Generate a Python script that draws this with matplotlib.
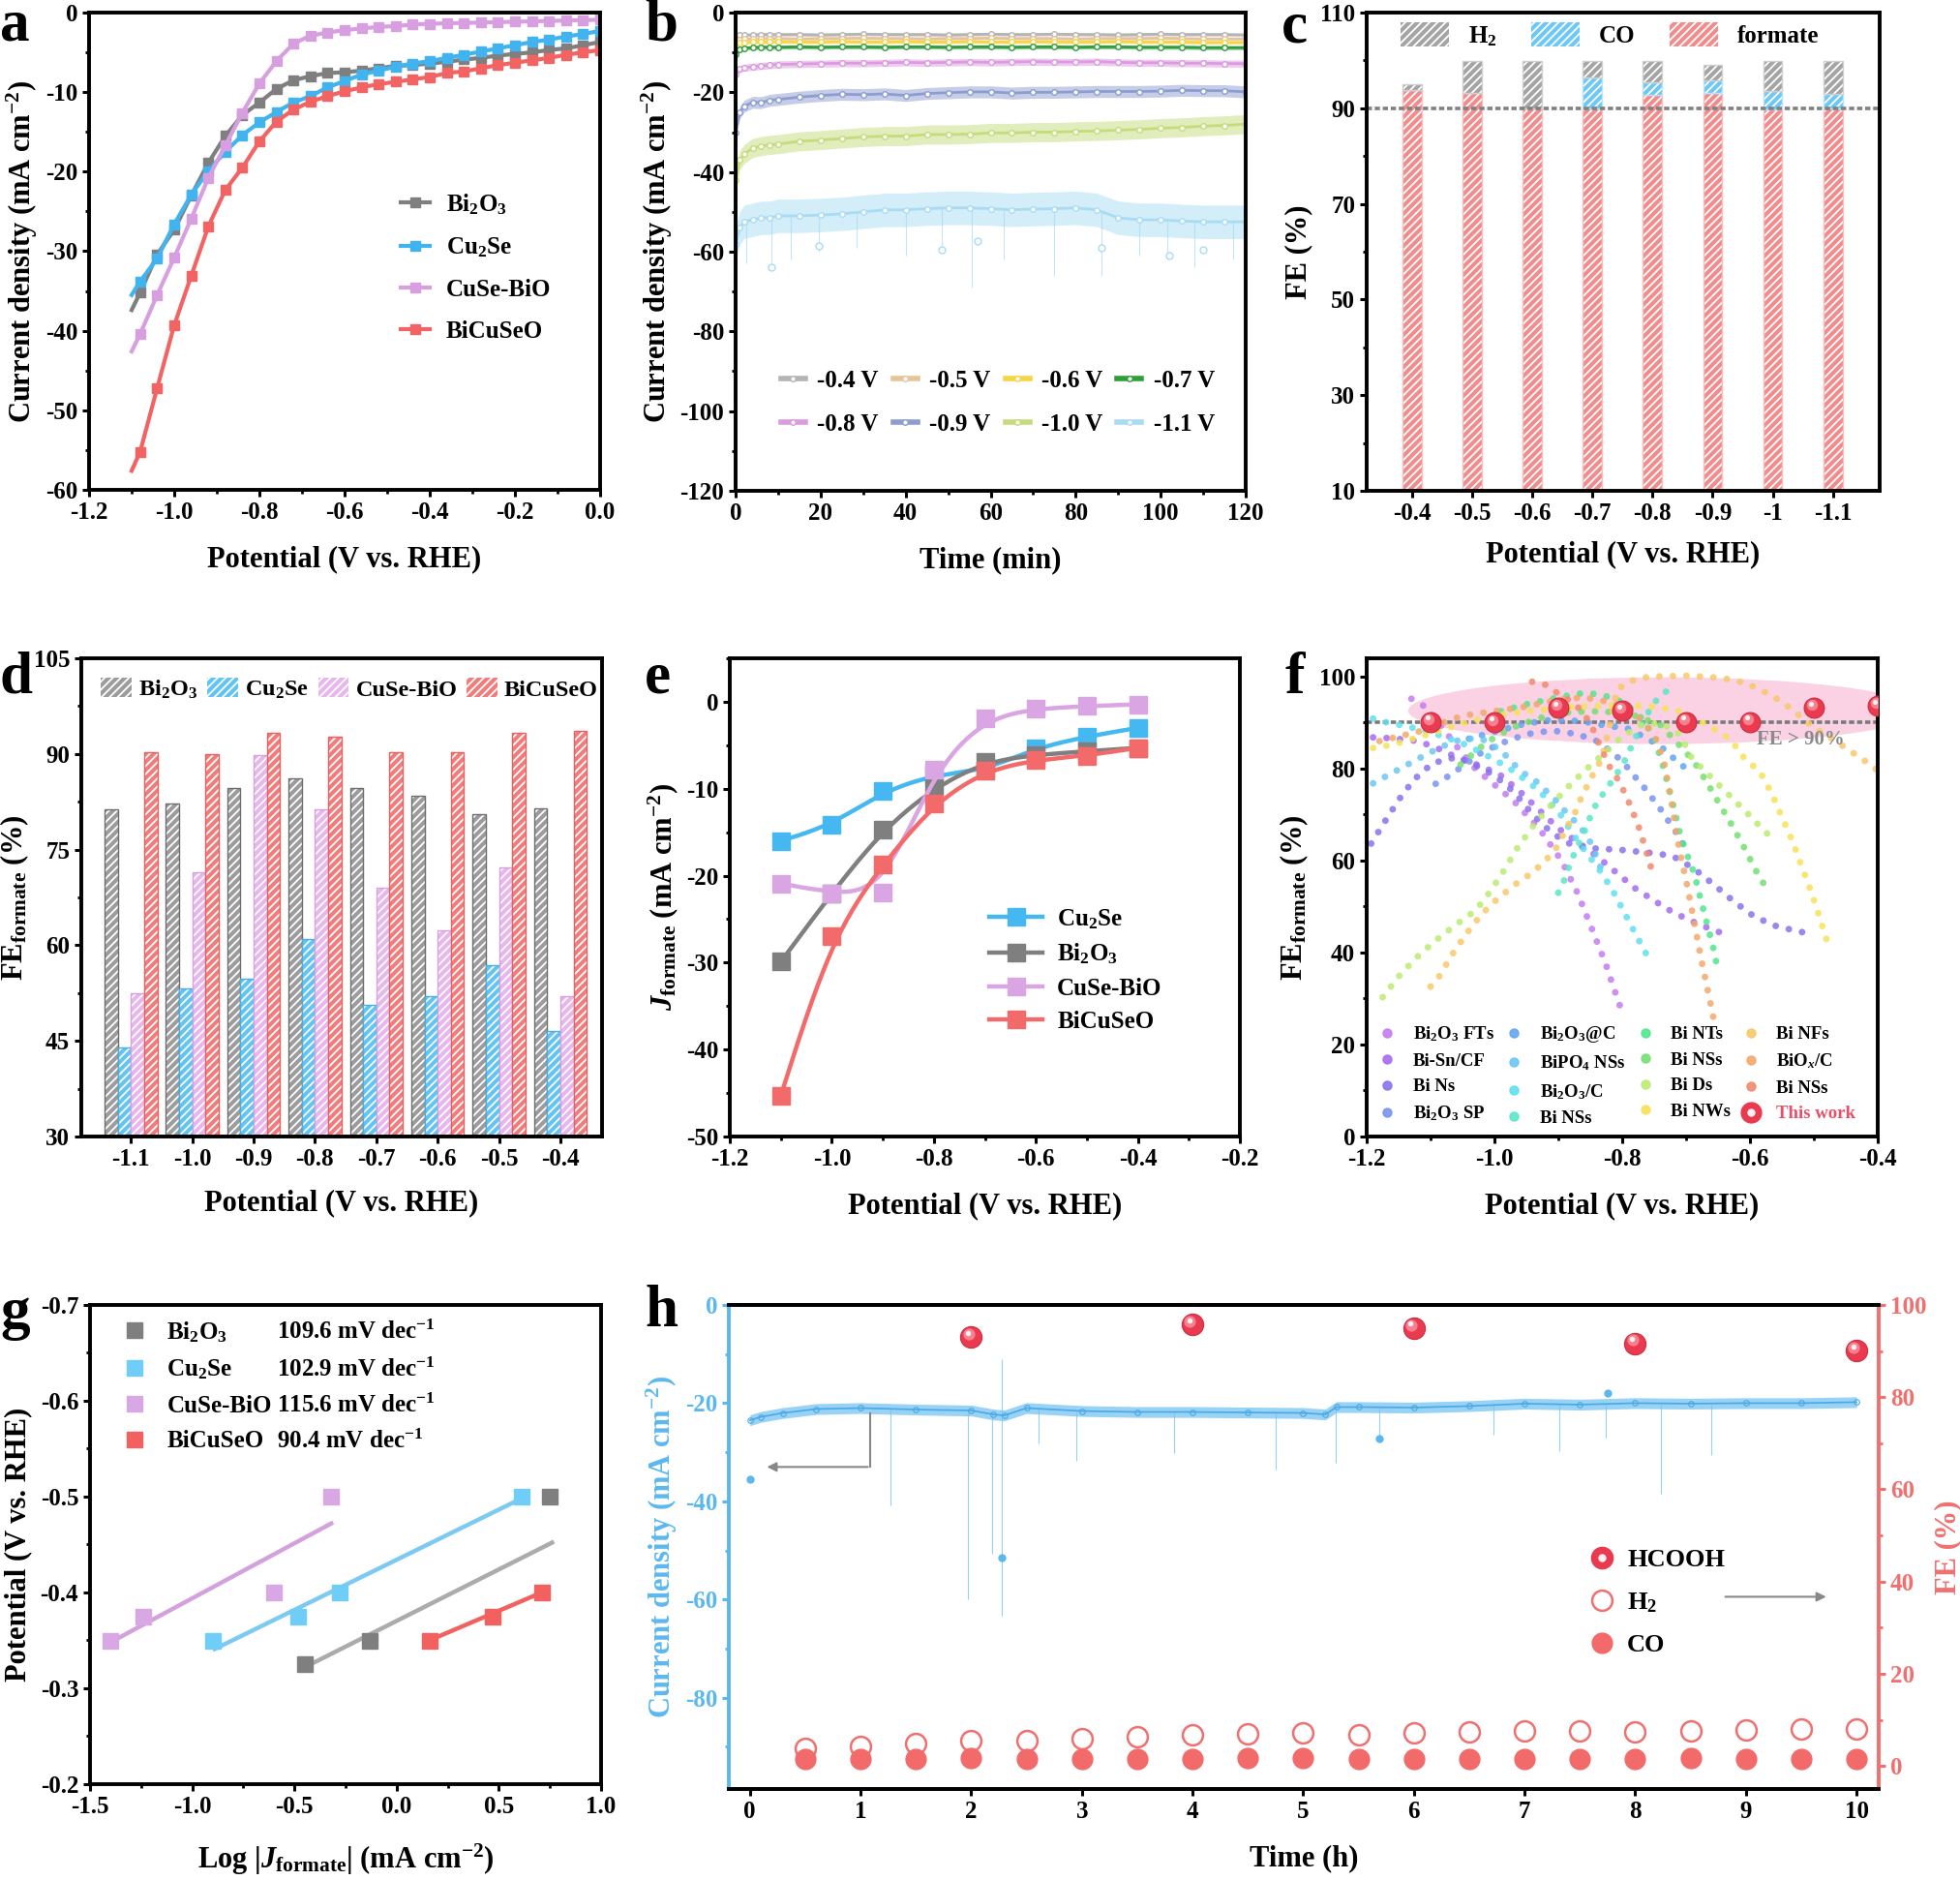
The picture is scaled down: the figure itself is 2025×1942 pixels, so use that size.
import numpy as np
import matplotlib
matplotlib.use("Agg")
import matplotlib.pyplot as plt
from matplotlib.patches import Patch, Ellipse
from matplotlib.lines import Line2D
from matplotlib.legend_handler import HandlerTuple
from matplotlib import transforms
from matplotlib.ticker import MultipleLocator

plt.rcParams.update({
    "font.family": ["Liberation Serif", "DejaVu Serif"],
    "font.weight": "bold",
    "axes.labelweight": "bold",
    "font.size": 18,
    "mathtext.fontset": "custom",
    "mathtext.rm": "Liberation Serif:bold",
    "mathtext.it": "Liberation Serif:italic:bold",
    "mathtext.bf": "Liberation Serif:bold",
    "axes.unicode_minus": False,
    "axes.linewidth": 2.8,
    "xtick.direction": "out",
    "ytick.direction": "out",
    "xtick.major.size": 5,
    "ytick.major.size": 5,
    "xtick.minor.size": 3,
    "ytick.minor.size": 3,
    "xtick.major.width": 2.2,
    "ytick.major.width": 2.2,
    "xtick.minor.width": 2.0,
    "ytick.minor.width": 2.0,
    "xtick.labelsize": 18,
    "ytick.labelsize": 18,
    "axes.labelsize": 22,
    "hatch.linewidth": 1.3,
    "legend.frameon": False,
})

# ---------------- data ----------------
# a: LSV curves
lsv_v = [-1.10, -1.08, -1.04, -1.00, -0.96, -0.92, -0.88, -0.84, -0.80, -0.76, -0.72, -0.68, -0.64, -0.60,
         -0.56, -0.52, -0.48, -0.44, -0.40, -0.36, -0.32, -0.28, -0.24, -0.20, -0.16, -0.12, -0.08, -0.04, 0.00]
lsv_bi2o3 = [-37.4, -35.2, -30.4, -27.3, -23.0, -18.9, -15.5, -12.9, -11.3, -9.6, -8.5, -8.0, -7.6, -7.5,
             -7.3, -7.0, -6.7, -6.6, -6.4, -6.2, -5.9, -5.7, -5.4, -5.2, -5.0, -4.7, -4.5, -4.1, -3.7]
lsv_cu2se = [-35.5, -33.8, -30.9, -26.6, -22.9, -19.9, -17.5, -15.4, -13.8, -12.5, -11.3, -10.5, -9.4, -8.6,
             -7.8, -7.3, -6.8, -6.4, -6.1, -5.7, -5.3, -4.9, -4.5, -4.1, -3.7, -3.4, -3.0, -2.7, -2.3]
lsv_cusebio = [-42.6, -40.4, -35.5, -30.8, -25.9, -20.8, -16.7, -12.6, -8.9, -6.1, -3.9, -2.9, -2.5, -2.2,
               -2.0, -1.8, -1.7, -1.5, -1.4, -1.35, -1.3, -1.25, -1.2, -1.15, -1.1, -1.05, -1.0, -0.95, -0.9]
lsv_bicuseo = [-57.6, -55.2, -47.2, -39.3, -33.1, -26.9, -22.3, -19.5, -16.2, -13.7, -12.2, -11.2, -10.5, -9.9,
               -9.4, -9.0, -8.7, -8.4, -8.1, -7.6, -7.4, -7.0, -6.6, -6.3, -6.0, -5.7, -5.3, -5.0, -4.7]

# b: i-t at fixed potentials
b_labels = ["-0.4 V", "-0.5 V", "-0.6 V", "-0.7 V", "-0.8 V", "-0.9 V", "-1.0 V", "-1.1 V"]
b_colors = ["#b4b4b4", "#e6c49a", "#f5d547", "#2e9e3a", "#dc9ae0", "#8e9dd0", "#c5dc7a", "#a8dcf4"]
b_t = [0, 1, 2, 4, 6, 8, 10, 15, 20, 25, 30, 35, 40, 45, 50, 55, 60, 65, 70, 75, 80, 85, 90, 95, 100, 105, 110, 115, 120]
b_j04 = [-6.0, -5.7, -5.6, -5.6, -5.5, -5.5, -5.5, -5.5, -5.6, -5.5, -5.4, -5.5, -5.5, -5.5, -5.6,
         -5.5, -5.4, -5.5, -5.5, -5.4, -5.5, -5.5, -5.6, -5.5, -5.4, -5.5, -5.5, -5.5, -5.6]
b_j05 = [-7.2, -6.8, -6.6, -6.6, -6.5, -6.5, -6.5, -6.6, -6.5, -6.5, -6.4, -6.5, -6.5, -6.6, -6.5,
         -6.5, -6.4, -6.5, -6.5, -6.5, -6.6, -6.5, -6.5, -6.5, -6.4, -6.5, -6.6, -6.6, -6.6]
b_j06 = [-8.0, -7.6, -7.5, -7.4, -7.4, -7.4, -7.3, -7.4, -7.4, -7.3, -7.4, -7.4, -7.3, -7.4, -7.4,
         -7.3, -7.4, -7.4, -7.3, -7.4, -7.4, -7.4, -7.3, -7.4, -7.4, -7.4, -7.5, -7.5, -7.5]
b_j07 = [-10.5, -9.2, -8.9, -8.8, -8.7, -8.7, -8.7, -8.6, -8.7, -8.6, -8.6, -8.7, -8.6, -8.6, -8.7,
         -8.6, -8.6, -8.7, -8.6, -8.6, -8.7, -8.6, -8.6, -8.7, -8.7, -8.7, -8.8, -8.8, -8.8]
b_j08 = [-15.5, -14.2, -13.8, -13.6, -13.4, -13.2, -13.0, -12.9, -12.8, -12.7, -12.7, -12.6, -12.5, -12.6, -12.5,
         -12.4, -12.5, -12.4, -12.3, -12.4, -12.4, -12.3, -12.5, -12.6, -12.6, -12.7, -12.7, -12.8, -12.8]
b_j09 = [-30.0, -25.0, -23.5, -22.5, -22.6, -22.0, -21.8, -21.2, -20.8, -20.5, -20.6, -20.4, -20.8, -20.3, -20.1,
         -19.9, -19.9, -20.2, -20.0, -20.0, -19.9, -19.8, -19.8, -19.8, -19.7, -19.5, -19.6, -19.6, -19.9]
b_j10 = [-42.0, -37.0, -35.5, -34.0, -33.5, -33.2, -33.0, -32.3, -32.0, -31.6, -31.2, -31.0, -31.0, -30.6, -30.6,
         -30.5, -30.2, -30.2, -30.0, -30.0, -29.8, -29.7, -29.5, -29.3, -29.0, -28.8, -28.5, -28.3, -28.0]
b_j11 = [-58.0, -54.0, -52.5, -52.0, -51.5, -51.5, -51.0, -51.0, -50.8, -50.5, -50.0, -49.5, -49.5, -49.2, -49.0,
         -49.0, -49.2, -49.5, -49.3, -49.2, -49.0, -49.5, -51.5, -52.0, -52.0, -52.3, -52.5, -52.5, -52.5]
b_noise = [0.4, 0.4, 0.4, 0.5, 0.9, 1.5, 2.4, 4.2]
b_spike_t = [2.5, 8.5, 13, 19.5, 28.5, 40, 48.5, 55.5, 63, 75, 86, 95, 101.5, 108, 117]
b_spike_lo = [-63, -64, -62, -60, -59, -61, -60, -69, -62, -66, -66, -61, -62, -64, -62]
b_out_t = [8.5, 19.5, 48.5, 57, 86, 102, 110]
b_out_j = [-63.8, -58.5, -59.5, -57.3, -59.0, -61.0, -59.5]

# c: product distribution of BiCuSeO
c_pot = ["-0.4", "-0.5", "-0.6", "-0.7", "-0.8", "-0.9", "-1", "-1.1"]
c_formate = [93.8, 93.2, 90.0, 90.0, 92.7, 93.2, 89.8, 89.9]
c_co = [0.0, 0.0, 0.0, 6.4, 2.7, 2.6, 3.9, 3.0]
c_h2 = [1.2, 6.6, 9.8, 3.4, 4.4, 3.2, 6.1, 6.9]

# d: formate FE of all samples
d_pot = ["-1.1", "-1.0", "-0.9", "-0.8", "-0.7", "-0.6", "-0.5", "-0.4"]
d_bi2o3 = [81.3, 82.2, 84.7, 86.1, 84.6, 83.4, 80.6, 81.4]
d_cu2se = [44.0, 53.2, 54.8, 61.0, 50.6, 52.0, 56.9, 46.5]
d_cusebio = [52.5, 71.4, 89.8, 81.3, 69.0, 62.3, 72.2, 52.0]
d_bicuseo = [90.2, 90.0, 93.3, 92.7, 90.2, 90.2, 93.3, 93.6]

# e: partial current density of formate
e_pot = [-1.1, -1.0, -0.9, -0.8, -0.7, -0.6, -0.5, -0.4]
e_cu2se = [-16.0, -14.2, -10.3, -8.4, -7.9, -5.3, -4.0, -3.0]
e_bi2o3 = [-29.9, -22.0, -14.7, -9.9, -6.9, -6.1, -5.7, -5.3]
e_cusebio = [-20.9, -22.0, -21.9, -7.8, -1.9, -0.8, -0.5, -0.3]
e_bicuseo = [-45.3, -26.9, -18.7, -11.7, -7.9, -6.7, -6.2, -5.3]

# f: literature comparison
f_fts_v = [-1.13, -1.11, -1.09, -1.06, -1.03, -1.00, -0.97, -0.93, -0.895, -0.87, -0.847, -0.826, -0.81, -0.80]
f_fts_fe = [95.2, 93.6, 90.5, 85.0, 80.0, 76.5, 73.0, 67.0, 60.0, 53.0, 45.0, 37.6, 31.0, 27.0]
f_bisn_v = [-1.19, -1.16, -1.12, -1.09, -1.06, -1.02, -0.99, -0.96, -0.93, -0.90, -0.87, -0.84, -0.81, -0.78,
            -0.73, -0.696, -0.659, -0.639]
f_bisn_fe = [86.8, 86.6, 86.0, 84.5, 82.5, 80.5, 78.5, 75.0, 71.0, 67.0, 64.0, 61.0, 57.5, 54.0, 49.5, 47.1, 45.0, 44.0]
f_bins_v = [-1.193, -1.172, -1.15, -1.126, -1.097, -1.062, -1.04, -1.00, -0.97, -0.94, -0.91, -0.88, -0.85, -0.80,
            -0.743, -0.72, -0.688, -0.655, -0.625, -0.593, -0.558, -0.52, -0.50]
f_bins_fe = [63.7, 68.4, 73.2, 77.6, 81.2, 82.4, 81.5, 78.5, 75.0, 70.0, 66.0, 63.5, 62.7, 62.3, 61.5, 60.9, 58.3,
             54.6, 51.1, 47.8, 45.7, 44.5, 43.9]
f_sp_v = [-1.092, -1.074, -1.05, -1.02, -0.99, -0.95, -0.91, -0.87, -0.84, -0.82, -0.804, -0.790, -0.778, -0.765,
          -0.753, -0.741, -0.730, -0.719, -0.708, -0.698]
f_sp_fe = [76.7, 78.2, 80.5, 83.5, 85.5, 87.5, 88.3, 87.5, 86.0, 84.0, 82.1, 80.0, 77.9, 75.8, 73.6, 71.4, 69.1,
           66.9, 64.4, 62.0]
f_atc_v = [-1.04, -1.00, -0.96, -0.92, -0.88, -0.85, -0.82, -0.794, -0.76, -0.741, -0.725, -0.716, -0.699]
f_atc_fe = [86.5, 88.0, 89.5, 90.5, 90.5, 90.0, 89.2, 88.9, 86.5, 84.9, 83.2, 81.6, 80.0]
f_bipo4_v = [-1.19, -1.153, -1.12, -1.084, -1.05, -1.02, -0.99, -0.97, -0.953, -0.936, -0.921, -0.906, -0.894,
             -0.880, -0.867, -0.855, -0.845, -0.835, -0.826]
f_bipo4_fe = [76.8, 79.6, 82.1, 84.7, 86.5, 86.5, 84.0, 81.0, 78.9, 77.4, 75.4, 73.5, 71.4, 69.5, 67.4, 65.5,
              62.5, 59.0, 56.0]
f_o3c_v = [-1.19, -1.17, -1.14, -1.11, -1.08, -1.05, -1.02, -0.984, -0.966, -0.95, -0.932, -0.912, -0.895, -0.876,
           -0.855, -0.837, -0.816, -0.797, -0.779, -0.76]
f_o3c_fe = [90.9, 90.1, 89.3, 88.3, 87.0, 85.5, 83.5, 80.7, 79.1, 77.3, 75.5, 72.5, 69.7, 65.5, 61.5, 58.3, 53.8,
            48.8, 44.0, 39.1]
f_nsa_v = [-0.90, -0.89, -0.88, -0.87, -0.86, -0.85, -0.84, -0.825, -0.81, -0.795, -0.78, -0.765, -0.746, -0.731, -0.715]
f_nsa_fe = [53.0, 56.0, 60.0, 63.0, 66.0, 69.5, 72.5, 75.5, 78.5, 82.0, 86.5, 91.0, 95.0, 96.8, 98.4]
f_nts_v = [-0.99, -0.95, -0.90, -0.87, -0.85, -0.83, -0.81, -0.79, -0.77, -0.75, -0.735, -0.72, -0.708, -0.695,
           -0.687, -0.677, -0.667, -0.657, -0.653]
f_nts_fe = [92.5, 94.0, 95.5, 96.3, 96.4, 95.9, 95.2, 93.5, 91.0, 87.0, 80.0, 72.0, 65.0, 60.0, 57.1, 51.5, 46.2,
            40.8, 38.0]
f_nsg_v = [-1.053, -1.023, -1.00, -0.97, -0.93, -0.88, -0.83, -0.78, -0.74, -0.72, -0.70, -0.687, -0.667, -0.647,
           -0.626, -0.607, -0.589, -0.579]
f_nsg_fe = [80.9, 84.5, 86.8, 89.0, 91.0, 92.3, 92.5, 91.5, 89.5, 86.5, 83.5, 81.4, 76.9, 72.1, 67.2, 62.3, 57.4, 55.1]
f_ds_v = [-1.175, -1.15, -1.123, -1.094, -1.062, -1.029, -1.006, -0.984, -0.963, -0.939, -0.913, -0.885, -0.857,
          -0.827, -0.80, -0.77, -0.74, -0.71, -0.69, -0.671, -0.658, -0.630, -0.602, -0.574, -0.560]
f_ds_fe = [30.3, 34.8, 38.8, 42.4, 45.9, 49.2, 53.4, 58.1, 63.0, 67.6, 71.8, 76.0, 79.8, 83.5, 87.0, 89.5, 90.0,
           87.5, 82.0, 79.6, 77.7, 73.9, 70.0, 66.0, 64.1]
f_nws_v = [-1.19, -1.16, -1.12, -1.08, -1.04, -1.00, -0.95, -0.90, -0.85, -0.80, -0.75, -0.71, -0.68, -0.655,
           -0.63, -0.607, -0.585, -0.566, -0.55, -0.534, -0.521, -0.507, -0.494, -0.482, -0.476]
f_nws_fe = [84.5, 85.2, 86.8, 88.5, 90.2, 91.5, 92.5, 93.2, 93.6, 93.8, 93.5, 92.5, 90.5, 88.5, 86.3, 81.9, 79.5,
            74.6, 69.5, 64.4, 59.5, 54.3, 49.0, 43.6, 41.1]
f_nfs_v = [-1.10, -1.087, -1.067, -1.044, -1.025, -1.006, -0.976, -0.961, -0.943, -0.928, -0.914, -0.902, -0.885,
           -0.875, -0.867, -0.858, -0.850, -0.832, -0.82, -0.808, -0.793, -0.775, -0.756, -0.70, -0.660, -0.640,
           -0.621, -0.602, -0.583, -0.564, -0.547, -0.532, -0.516, -0.500, -0.483, -0.467, -0.450, -0.434, -0.417, -0.402]
f_nfs_fe = [32.6, 34.7, 39.4, 44.1, 47.5, 50.4, 53.9, 55.5, 57.1, 59.0, 60.9, 63.0, 67.7, 70.0, 72.8, 75.3, 77.7,
            82.1, 89.0, 97.1, 98.7, 99.6, 100.0, 100.2, 99.9, 99.6, 99.1, 98.3, 97.1, 95.7, 94.2, 92.6, 90.8, 88.9,
            87.5, 86.1, 84.5, 83.0, 81.4, 79.8]
f_biox_v = [-1.18, -1.15, -1.12, -1.09, -1.05, -1.00, -0.95, -0.90, -0.86, -0.82, -0.79, -0.765, -0.745, -0.733,
            -0.722, -0.711, -0.698, -0.687, -0.676, -0.668, -0.656]
f_biox_fe = [86.0, 87.0, 88.0, 89.5, 91.5, 92.5, 93.5, 95.0, 95.5, 94.5, 93.0, 90.0, 86.0, 80.6, 72.0, 62.7, 54.4,
             46.4, 38.3, 33.1, 25.0]
f_nss_v = [-0.941, -0.923, -0.902, -0.873, -0.85, -0.835, -0.82, -0.803, -0.786, -0.773, -0.761, -0.75]
f_nss_fe = [98.9, 98.5, 96.5, 94.0, 90.0, 85.0, 80.5, 76.8, 71.6, 66.9, 61.4, 56.2]

f_names = ["Bi$_2$O$_3$ FTs", "Bi-Sn/CF", "Bi Ns", "Bi$_2$O$_3$ SP",
           "Bi$_2$O$_3$@C", "BiPO$_4$ NSs", "Bi$_2$O$_3$/C", "Bi NSs",
           "Bi NTs", "Bi NSs", "Bi Ds", "Bi NWs",
           "Bi NFs", "BiO$_x$/C", "Bi NSs"]
f_colors = ["#c47cf2", "#a66cf0", "#8a72ee", "#7894f0",
            "#62a6f0", "#6cc6f4", "#5ee0f0", "#5ce6c8",
            "#52e68e", "#74e070", "#bcec72", "#f6e25a",
            "#f8c86a", "#f4a86a", "#f28a6c"]
f_xs = [f_fts_v, f_bisn_v, f_bins_v, f_sp_v, f_atc_v, f_bipo4_v, f_o3c_v, f_nsa_v,
        f_nts_v, f_nsg_v, f_ds_v, f_nws_v, f_nfs_v, f_biox_v, f_nss_v]
f_ys = [f_fts_fe, f_bisn_fe, f_bins_fe, f_sp_fe, f_atc_fe, f_bipo4_fe, f_o3c_fe, f_nsa_fe,
        f_nts_fe, f_nsg_fe, f_ds_fe, f_nws_fe, f_nfs_fe, f_biox_fe, f_nss_fe]

# g: Tafel
g_bi2o3_x = [-0.45, -0.13, 0.75]
g_bi2o3_y = [-0.325, -0.35, -0.50]
g_bi2o3_fit_x = [-0.45, 0.76]
g_bi2o3_fit_y = [-0.322, -0.452]
g_cu2se_x = [-0.90, -0.48, -0.28, 0.61]
g_cu2se_y = [-0.35, -0.375, -0.40, -0.50]
g_cu2se_fit_x = [-0.89, 0.61]
g_cu2se_fit_y = [-0.341, -0.498]
g_cusebio_x = [-1.40, -1.24, -0.60, -0.32]
g_cusebio_y = [-0.35, -0.375, -0.40, -0.50]
g_cusebio_fit_x = [-1.40, -0.32]
g_cusebio_fit_y = [-0.348, -0.472]
g_bicuseo_x = [0.16, 0.47, 0.71]
g_bicuseo_y = [-0.35, -0.375, -0.40]
g_bicuseo_fit_x = [0.16, 0.71]
g_bicuseo_fit_y = [-0.35, -0.40]
g_slopes = ["109.6 mV dec$^{-1}$", "102.9 mV dec$^{-1}$", "115.6 mV dec$^{-1}$", "90.4 mV dec$^{-1}$"]

# h: long-term stability
h_t = [0, 0.1, 0.3, 0.6, 1.0, 1.5, 2.0, 2.2, 2.3, 2.5, 3.0, 3.5, 4.0, 4.5, 5.0, 5.2, 5.3, 5.5,
       6.0, 6.5, 7.0, 7.5, 8.0, 8.5, 9.0, 9.5, 10.0]
h_j = [-23.5, -22.8, -22.0, -21.2, -21.0, -21.3, -21.5, -22.3, -22.5, -21.0, -21.6, -21.8, -21.8, -21.9, -22.0,
       -22.3, -20.8, -20.8, -20.9, -20.6, -20.1, -20.3, -20.0, -20.1, -20.0, -20.0, -19.8]
h_spike_t = [1.27, 1.97, 2.19, 2.28, 2.61, 2.95, 3.83, 4.75, 5.29, 5.69, 6.72, 7.31, 7.73, 8.23, 8.69]
h_spike_lo = [-40.8, -60.0, -50.6, -63.3, -28.2, -31.8, -30.2, -33.5, -32.2, -27.8, -26.5, -29.8, -27.0, -38.4, -30.6]
h_out_t = [0.0, 2.28, 5.69, 7.75]
h_out_j = [-35.5, -51.5, -27.3, -18.0]
h_hcooh_t = [2, 4, 6, 8, 10]
h_hcooh_fe = [93.0, 95.8, 95.0, 91.7, 90.1]
h_gas_t = [0.5, 1.0, 1.5, 2.0, 2.5, 3.0, 3.5, 4.0, 4.5, 5.0, 5.5, 6.0, 6.5, 7.0, 7.5, 8.0, 8.5, 9.0, 9.5, 10.0]
h_h2_fe = [3.9, 4.2, 4.8, 5.4, 5.4, 5.9, 6.3, 6.7, 7.0, 7.1, 6.7, 7.1, 7.3, 7.7, 7.6, 7.3, 7.7, 7.8, 8.0, 8.0]
h_co_fe = [1.5, 1.5, 1.6, 1.7, 1.5, 1.6, 1.6, 1.6, 1.7, 1.7, 1.5, 1.5, 1.6, 1.6, 1.6, 1.6, 1.7, 1.6, 1.6, 1.6]

GRAY, BLUE, PURPLE, RED = "#7f7f7f", "#41b4f0", "#d79fe0", "#f26464"

W, H = 2025, 1942
fig = plt.figure(figsize=(W / 100, H / 100), dpi=100)


def box(l, r, t, b):
    return [l / W, 1 - b / H, (r - l) / W, (b - t) / H]


def ticks(ax, xmaj=None, xmin=None, ymaj=None, ymin=None):
    if xmaj:
        ax.xaxis.set_major_locator(MultipleLocator(xmaj))
    if xmin:
        ax.xaxis.set_minor_locator(MultipleLocator(xmin))
    if ymaj:
        ax.yaxis.set_major_locator(MultipleLocator(ymaj))
    if ymin:
        ax.yaxis.set_minor_locator(MultipleLocator(ymin))
    ax.tick_params(which="both", top=False, right=False)


def letter(s, x, y):
    fig.text(x / W, 1 - y / H, s, fontsize=44, fontweight="bold", va="baseline", ha="left")


def sphere(ax, x, y, ms, z=5):
    ax.plot(x, y, "o", ms=ms, color="#ea3a50", mec="#d02a40", mew=0.8, ls="none", zorder=z)
    t1 = transforms.offset_copy(ax.transData, fig=fig, x=-ms * 0.12, y=ms * 0.14, units="points")
    ax.plot(x, y, "o", ms=ms * 0.55, color="#f7808f", mew=0, ls="none", transform=t1, zorder=z + 0.1)
    t2 = transforms.offset_copy(ax.transData, fig=fig, x=-ms * 0.16, y=ms * 0.2, units="points")
    ax.plot(x, y, "o", ms=ms * 0.25, color="#fff0f2", mew=0, ls="none", transform=t2, zorder=z + 0.2)


def bspline(xs, ys, n=30):
    # uniform cubic B-spline with clamped ends, like Origin's B-spline connect
    p = np.column_stack([xs, ys]).astype(float)
    p = np.vstack([p[0], p[0], p, p[-1], p[-1]])
    t = np.linspace(0, 1, n)[:, None]
    b0 = (1 - t) ** 3 / 6
    b1 = (3 * t ** 3 - 6 * t ** 2 + 4) / 6
    b2 = (-3 * t ** 3 + 3 * t ** 2 + 3 * t + 1) / 6
    b3 = t ** 3 / 6
    seg = [b0 * p[i] + b1 * p[i + 1] + b2 * p[i + 2] + b3 * p[i + 3] for i in range(len(p) - 3)]
    out = np.vstack(seg)
    return out[:, 0], out[:, 1]


def hatched_bar(ax, x, h, w, face, edge, bottom=0):
    ax.bar(x, h, w, bottom=bottom, color=face, edgecolor="white", hatch="////", lw=0)
    ax.bar(x, h, w, bottom=bottom, color="none", edgecolor=edge, lw=1.0)


sphere_handler = {tuple: HandlerTuple(ndivide=1, pad=0)}

# ---------------- a ----------------
ax = fig.add_axes(box(92, 620, 13, 506))
for ys, c, lab in [(lsv_bi2o3, GRAY, "Bi$_2$O$_3$"), (lsv_cu2se, BLUE, "Cu$_2$Se"),
                   (lsv_cusebio, PURPLE, "CuSe-BiO"), (lsv_bicuseo, RED, "BiCuSeO")]:
    ax.plot(lsv_v, ys, color=c, lw=3, marker="s", ms=7, markevery=slice(1, None), label=lab)
ax.set_xlim(-1.2, 0)
ax.set_ylim(-60, 0)
ticks(ax, 0.2, 0.1, 10, 5)
ax.xaxis.set_major_formatter(plt.FormatStrFormatter("%.1f"))
ax.set_xlabel("Potential (V vs. RHE)", labelpad=16)
ax.set_ylabel("Current density (mA cm$^{-2}$)", labelpad=4)
ax.legend(loc="upper left", bbox_to_anchor=(0.59, 0.645), fontsize=18, handlelength=1.2,
          handletextpad=0.7, labelspacing=0.8, borderaxespad=0)
letter("a", 0, 42)

# ---------------- b ----------------
ax = fig.add_axes(box(760, 1287, 13, 507))
series_b = [b_j04, b_j05, b_j06, b_j07, b_j08, b_j09, b_j10, b_j11]
ax.vlines(b_spike_t, np.interp(b_spike_t, b_t, b_j11), b_spike_lo, color=b_colors[7], lw=0.8, alpha=0.7)
handles_b = []
for ys, c, lab, s in zip(series_b, b_colors, b_labels, b_noise):
    ys = np.array(ys)
    ax.fill_between(b_t, ys - s, ys + s, color=c, alpha=0.5, lw=0)
    ax.plot(b_t, ys, color=c, lw=2, marker="o", ms=4, mfc="white", mec=c, mew=1, label=lab)
    handles_b.append(Line2D([], [], color=c, lw=4, marker="o", ms=4, mfc="white", mec=c))
ax.plot(b_out_t, b_out_j, "o", ms=5, mfc="white", mec=b_colors[7], ls="none")
ax.set_xlim(0, 120)
ax.set_ylim(-120, 0)
ticks(ax, 20, 10, 20, 10)
ax.set_xlabel("Time (min)", labelpad=16)
ax.set_ylabel("Current density (mA cm$^{-2}$)", labelpad=4)
order = [0, 4, 1, 5, 2, 6, 3, 7]
ax.legend([handles_b[i] for i in order], [b_labels[i] for i in order], ncol=4, loc="lower left",
          bbox_to_anchor=(0.07, 0.095), fontsize=18, handlelength=1.0, handletextpad=0.5,
          columnspacing=0.6, labelspacing=0.9, borderaxespad=0)
letter("b", 666, 42)

# ---------------- c ----------------
ax = fig.add_axes(box(1412, 1942, 13, 507))
xc = np.arange(len(c_pot))
wc = 0.32
hatched_bar(ax, xc, c_formate, wc, "#f28b8b", "#f6c0c0")
hatched_bar(ax, xc, c_co, wc, "#6ec8f5", "#b8e3f8", bottom=c_formate)
hatched_bar(ax, xc, c_h2, wc, "#a4a4a4", "#d0d0d0", bottom=np.array(c_formate) + np.array(c_co))
ax.axhline(90, color="#808080", ls=(0, (1.5, 0.8)), lw=2.6, zorder=1)
ax.set_xlim(-0.76, 7.78)
ax.set_ylim(10, 110)
ax.set_xticks(xc)
ax.set_xticklabels(c_pot)
ax.set_yticks(np.arange(10, 111, 20))
ax.set_yticks(np.arange(20, 110, 20), minor=True)
ax.tick_params(which="both", top=False, right=False)
ax.set_xlabel("Potential (V vs. RHE)", labelpad=12)
ax.set_ylabel("FE (%)", labelpad=6)
hc = [Patch(facecolor="#a4a4a4", edgecolor="white", hatch="////", lw=0),
      Patch(facecolor="#6ec8f5", edgecolor="white", hatch="////", lw=0),
      Patch(facecolor="#f28b8b", edgecolor="white", hatch="////", lw=0)]
ax.legend(hc, ["H$_2$", "CO", "formate"], ncol=3, loc="center", bbox_to_anchor=(0.474, 0.953),
          fontsize=18, handlelength=2.0, handleheight=1.2, handletextpad=0.8, columnspacing=1.4,
          borderaxespad=0)
letter("c", 1324, 44)

# ---------------- d ----------------
ax = fig.add_axes(box(84, 622, 680, 1174))
xd = np.arange(len(d_pot))
wd = 0.215
d_series = [(d_bi2o3, "#9c9c9c", "#6e6e6e", "Bi$_2$O$_3$"), (d_cu2se, "#62c4f3", "#4aaee0", "Cu$_2$Se"),
            (d_cusebio, "#e6b6ec", "#d8a0e0", "CuSe-BiO"), (d_bicuseo, "#f27c7c", "#e86060", "BiCuSeO")]
hd = []
for k, (vals, face, edge, lab) in enumerate(d_series):
    hatched_bar(ax, xd + (k - 1.5) * wd, vals, wd, face, edge)
    hd.append(Patch(facecolor=face, edgecolor="white", hatch="////", lw=0))
ax.set_xlim(-0.81, 7.68)
ax.set_ylim(30, 105)
ax.set_xticks(xd)
ax.set_xticklabels(d_pot)
ticks(ax, None, None, 15, 7.5)
ax.set_xlabel("Potential (V vs. RHE)", labelpad=14)
ax.set_ylabel("FE$_{\\mathrm{formate}}$ (%)", labelpad=2)
ax.legend(hd, [s[3] for s in d_series], ncol=4, loc="center", bbox_to_anchor=(0.515, 0.935),
          fontsize=17.5, handlelength=1.3, handleheight=0.9, handletextpad=0.3, columnspacing=0.4,
          borderaxespad=0)
letter("d", 0, 716)

# ---------------- e ----------------
ax = fig.add_axes(box(754, 1281, 680, 1174))
he = []
for ys, c, lab in [(e_cu2se, "#45b8f2", "Cu$_2$Se"), (e_bi2o3, GRAY, "Bi$_2$O$_3$"),
                   (e_cusebio, "#d9a5e3", "CuSe-BiO"), (e_bicuseo, "#f36a6a", "BiCuSeO")]:
    sx, sy = bspline(e_pot, ys)
    ax.plot(sx, sy, color=c, lw=3.2)
    ax.plot(e_pot, ys, "s", color=c, ms=13, ls="none")
    he.append(Line2D([], [], color=c, lw=3.2, marker="s", ms=13))
ax.set_xlim(-1.2, -0.2)
ax.set_ylim(-50, 5)
ticks(ax, 0.2, 0.1, 10, 5)
ax.xaxis.set_major_formatter(plt.FormatStrFormatter("%.1f"))
ax.set_xlabel("Potential (V vs. RHE)", labelpad=16)
ax.set_ylabel("$\\mathit{J}_{\\mathrm{formate}}$ (mA cm$^{-2}$)", labelpad=4)
ax.legend(he, ["Cu$_2$Se", "Bi$_2$O$_3$", "CuSe-BiO", "BiCuSeO"], loc="upper left",
          bbox_to_anchor=(0.49, 0.50), fontsize=18, handlelength=2.2, handletextpad=0.6,
          labelspacing=0.45, borderaxespad=0)
letter("e", 666, 716)

# ---------------- f ----------------
ax = fig.add_axes(box(1412, 1940, 680, 1174))
ax.add_patch(Ellipse((-0.735, 92.6), 0.80, 14.5, color="#f9c4da", alpha=0.75, lw=0, zorder=0))
ax.axhline(90, color="#7a7a7a", ls=(0, (1.5, 0.8)), lw=2.6, zorder=1)
hf = []
for xs, ys, c in zip(f_xs, f_ys, f_colors):
    ax.plot(xs, ys, color=c, lw=5, ls=(0, (0.01, 2.0)), dash_capstyle="round", alpha=0.85, zorder=2)
    hf.append(Line2D([], [], color=c, marker="o", ms=6.5, ls="none", alpha=0.9))
sphere(ax, e_pot, d_bicuseo, 15)
ax.text(-0.59, 86.3, "FE > 90%", color="#8a8a8a", fontsize=15, ha="left", va="center")
ax.set_xlim(-1.2, -0.4)
ax.set_ylim(0, 104)
ticks(ax, 0.2, 0.1, 20, 10)
ax.xaxis.set_major_formatter(plt.FormatStrFormatter("%.1f"))
ax.set_xlabel("Potential (V vs. RHE)", labelpad=16)
ax.set_ylabel("FE$_{\\mathrm{formate}}$ (%)", labelpad=6)
tw = (Line2D([], [], marker="o", ms=15, color="#ea3a50", ls="none"),
      Line2D([], [], marker="o", ms=5, color="#fff0f2", ls="none"))
leg = ax.legend(hf + [tw], f_names + ["This work"], ncol=4, loc="lower left", bbox_to_anchor=(0.005, 0.005),
                fontsize=13.5, handlelength=1.2, handletextpad=0.8, columnspacing=0.5, labelspacing=0.5,
                borderaxespad=0, handler_map=sphere_handler)
leg.get_texts()[-1].set_color("#e8506a")
letter("f", 1327, 716)

# ---------------- g ----------------
ax = fig.add_axes(box(93, 621, 1348, 1843))
g_sets = [(g_bi2o3_x, g_bi2o3_y, g_bi2o3_fit_x, g_bi2o3_fit_y, "#7f7f7f", "#ababab", "Bi$_2$O$_3$"),
          (g_cu2se_x, g_cu2se_y, g_cu2se_fit_x, g_cu2se_fit_y, "#6fcdf8", "#7cc9f2", "Cu$_2$Se"),
          (g_cusebio_x, g_cusebio_y, g_cusebio_fit_x, g_cusebio_fit_y, "#d8a8e4", "#d3a2dc", "CuSe-BiO"),
          (g_bicuseo_x, g_bicuseo_y, g_bicuseo_fit_x, g_bicuseo_fit_y, "#f26060", "#f26060", "BiCuSeO")]
hg = []
for px, py, fx, fy, mc, lc, lab in g_sets:
    ax.plot(fx, fy, color=lc, lw=3.2, zorder=2)
    ax.plot(px, py, "s", color=mc, ms=11, ls="none", zorder=3)
    hg.append(Line2D([], [], marker="s", color=mc, ms=11, ls="none"))
ax.set_xlim(-1.5, 1.0)
ax.set_ylim(-0.2, -0.7)
ticks(ax, 0.5, 0.25, 0.1, 0.05)
ax.xaxis.set_major_formatter(plt.FormatStrFormatter("%.1f"))
ax.yaxis.set_major_formatter(plt.FormatStrFormatter("%.1f"))
ax.set_xlabel("Log |$\\mathit{J}_{\\mathrm{formate}}$| (mA cm$^{-2}$)", labelpad=18)
ax.set_ylabel("Potential (V vs. RHE)", labelpad=6)
legg = ax.legend(hg, [s[6] for s in g_sets], loc="upper left", bbox_to_anchor=(0.044, 0.99), fontsize=18,
                 handlelength=1.0, handletextpad=0.85, labelspacing=0.55, borderaxespad=0)
fig.canvas.draw()
inv = ax.transAxes.inverted()
for txt, sl in zip(legg.get_texts(), g_slopes):
    bb = txt.get_window_extent()
    yc = inv.transform(((bb.x0 + bb.x1) / 2, (bb.y0 + bb.y1) / 2))[1]
    ax.text(0.365, yc, sl, transform=ax.transAxes, fontsize=18, va="center", ha="left")
letter("g", 0, 1372)

# ---------------- h ----------------
axh = fig.add_axes(box(753, 1941, 1348, 1848))
hj = np.array(h_j)
axh.vlines(h_spike_t, np.interp(h_spike_t, h_t, h_j), h_spike_lo, color="#7cc6f0", lw=0.8, alpha=0.8)
axh.vlines([2.28], -22.5, -11.0, color="#7cc6f0", lw=0.8, alpha=0.8)
axh.fill_between(h_t, hj - 1.1, hj + 1.1, color="#6cc0f0", alpha=0.7, lw=0)
axh.plot(h_t, h_j, color="#4aa8e6", lw=1.2, marker="o", ms=4, mfc="none", mec="#4aa8e6", mew=0.8)
axh.plot(h_out_t, h_out_j, "o", ms=5, color="#5bb8ee", ls="none")
axh.plot([1.09, 1.09], [-22.0, -33.0], color="#888888", lw=1.5)
axh.annotate("", xy=(0.13, -33.0), xytext=(1.09, -33.0),
             arrowprops=dict(arrowstyle="-|>", color="#888888", lw=1.5, mutation_scale=14))
axh.set_xlim(-0.19, 10.2)
axh.set_ylim(-98.6, 0)
axh.xaxis.set_major_locator(MultipleLocator(1))
axh.yaxis.set_major_locator(MultipleLocator(20))
axh.yaxis.set_minor_locator(MultipleLocator(10))
axh.tick_params(axis="y", which="both", colors="#5bb8ee", right=False)
axh.tick_params(axis="x", top=False)
axh.spines["left"].set_color("#5bb8ee")
axh.spines["right"].set_visible(False)
axh.set_xlabel("Time (h)", labelpad=16)
axh.set_ylabel("Current density (mA cm$^{-2}$)", color="#5bb8ee", labelpad=4)
axf = axh.twinx()
axf.set_ylim(-5, 100)
axf.yaxis.set_major_locator(MultipleLocator(20))
axf.yaxis.set_minor_locator(MultipleLocator(10))
axf.tick_params(axis="y", which="both", colors="#f07070")
axf.spines["right"].set_color("#f07070")
axf.spines["left"].set_visible(False)
axf.set_ylabel("FE (%)", color="#f07070", rotation=90, labelpad=6)
sphere(axf, h_hcooh_t, h_hcooh_fe, 16)
axf.plot(h_gas_t, h_h2_fe, "o", ms=15, mfc="none", mec="#f07070", mew=1.8, ls="none")
axf.plot(h_gas_t, h_co_fe, "o", ms=15, color="#f26a6a", ls="none")
axf.annotate("", xy=(9.75, 36.7), xytext=(8.79, 36.7),
             arrowprops=dict(arrowstyle="-|>", color="#888888", lw=1.5, mutation_scale=14))
hh = [(Line2D([], [], marker="o", ms=16, color="#ea3a50", ls="none"),
       Line2D([], [], marker="o", ms=5, color="#fff0f2", ls="none")),
      Line2D([], [], marker="o", ms=15, mfc="none", mec="#f07070", mew=1.8, ls="none"),
      Line2D([], [], marker="o", ms=15, color="#f26a6a", ls="none")]
axf.legend(hh, ["HCOOH", "H$_2$", "CO"], loc="center left", bbox_to_anchor=(0.728, 0.385), fontsize=19,
           handlelength=1.0, handletextpad=0.5, labelspacing=0.75, handler_map=sphere_handler)
letter("h", 666, 1370)

fig.savefig("out.png", dpi=100)
